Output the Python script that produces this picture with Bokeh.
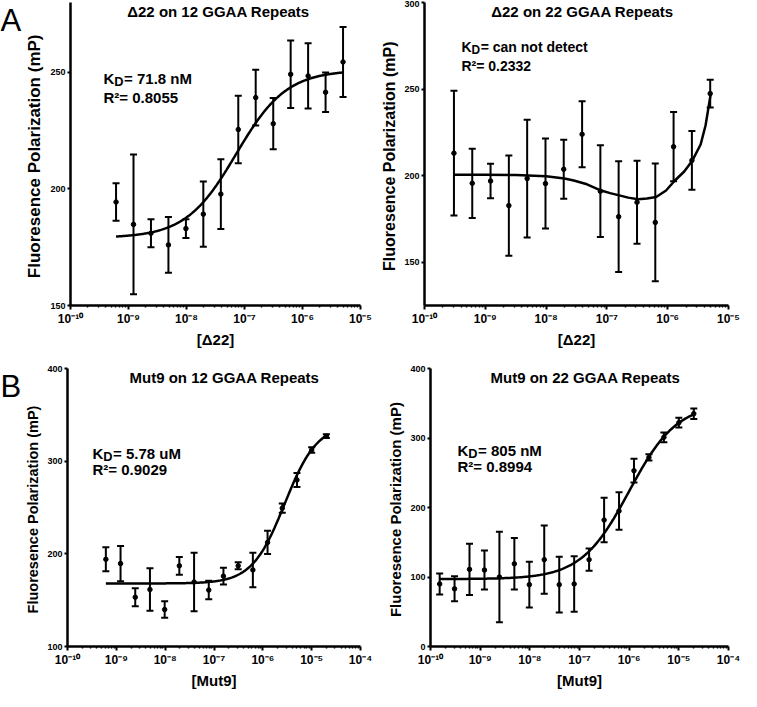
import numpy as np
from bokeh.plotting import figure
from bokeh.models import (ColumnDataSource, Whisker, TeeHead, Label, FixedTicker,
                          CustomJSTickFormatter, Range1d)
from bokeh.layouts import row, column
from bokeh.embed import file_html
from bokeh.resources import INLINE

# ---------------- data ----------------
# Panel A, left: Delta22 on 12 GGAA repeats
a12_conc = [6.1e-10, 1.22e-9, 2.44e-9, 4.88e-9, 9.77e-9, 1.95e-8, 3.91e-8,
            7.81e-8, 1.56e-7, 3.13e-7, 6.25e-7, 1.25e-6, 2.5e-6, 5.0e-6]
a12_mp = [194.4, 184.8, 181.0, 176.0, 183.0, 189.2, 197.8,
          225.5, 239.2, 228.0, 249.2, 248.5, 241.5, 254.5]
a12_err = [8, 30, 6, 12, 4, 14, 15, 14.5, 12, 11, 14.5, 14, 8.5, 15]
a12_fit_bottom, a12_fit_top, a12_fit_ec50, a12_fit_hill = 179.0, 251.0, 7.18e-8, 1.0

# Panel A, right: Delta22 on 22 GGAA repeats
a22_conc = [3.05e-10, 6.1e-10, 1.22e-9, 2.44e-9, 4.88e-9, 9.77e-9, 1.95e-8, 3.91e-8,
            7.81e-8, 1.56e-7, 3.13e-7, 6.25e-7, 1.25e-6, 2.5e-6, 5.0e-6]
a22_mp = [213.0, 195.6, 196.9, 182.7, 198.3, 195.4, 203.7, 223.9,
          191.0, 176.3, 184.6, 173.0, 216.7, 208.8, 247.4]
a22_err = [36, 20, 10, 29, 34, 26, 17, 19, 26.5, 32, 24, 34, 20, 17, 8]
# fitted curve as drawn
a22_curve_conc = [3.05e-10, 1e-9, 3.2e-9, 1e-8, 2e-8, 2.85e-8, 4.7e-8, 8.05e-8, 1.13e-7,
                  1.6e-7, 2.24e-7, 3.25e-7, 4.56e-7, 6.46e-7, 9.4e-7, 1.29e-6, 1.87e-6,
                  2.55e-6, 3.48e-6, 4.2e-6, 5.06e-6]
a22_curve_mp = [200.5, 200.5, 200.3, 199.6, 198.4, 197.2, 195.0, 191.4, 189.9,
                188.6, 187.3, 186.4, 186.8, 187.7, 191.4, 196.9, 202.4,
                208.8, 218.0, 229.1, 246.5]

# Panel B, left: Mut9 on 12 GGAA repeats
b12_conc = [6.1e-10, 1.22e-9, 2.44e-9, 4.88e-9, 9.77e-9, 1.95e-8, 3.91e-8, 7.81e-8,
            1.56e-7, 3.13e-7, 6.25e-7, 1.25e-6, 2.5e-6, 5.0e-6, 1.0e-5, 2.0e-5]
b12_mp = [194.1, 189.5, 153.2, 161.5, 139.9, 187.1, 169.6, 160.9,
          175.9, 187.1, 182.6, 212.3, 249.3, 279.7, 312.0, 327.0]
b12_err = [13, 19, 9.7, 23, 9, 9.6, 31.5, 10, 9, 3.7, 18.6, 12.6, 5, 7.5, 3, 2]
b12_fit_bottom, b12_fit_top, b12_fit_ec50, b12_fit_hill = 168.0, 340.0, 2.8e-6, 1.3

# Panel B, right: Mut9 on 22 GGAA repeats
b22_conc = [1.53e-10, 3.05e-10, 6.1e-10, 1.22e-9, 2.44e-9, 4.88e-9, 9.77e-9, 1.95e-8,
            3.91e-8, 7.81e-8, 1.56e-7, 3.13e-7, 6.25e-7, 1.25e-6, 2.5e-6, 5.0e-6,
            1.0e-5, 2.0e-5]
b22_mp = [90, 83, 111, 110, 100, 119, 89, 125, 89, 90, 125, 182, 195, 253, 272, 301, 322, 335]
b22_err = [15, 18, 37, 28, 65, 37, 33, 49, 40, 40, 16, 32, 27, 17, 4.5, 7, 7, 7.5]
b22_fit_bottom, b22_fit_top, b22_fit_ec50, b22_fit_hill = 97.0, 350.0, 1.0e-6, 0.9

# axis ticks
a_xticks = [1e-10, 1e-9, 1e-8, 1e-7, 1e-6, 1e-5]
b_xticks = [1e-10, 1e-9, 1e-8, 1e-7, 1e-6, 1e-5, 1e-4]
a12_yticks = [150, 200, 250]
a22_yticks = [150, 200, 250, 300]
b12_yticks = [100, 200, 300, 400]
b22_yticks = [0, 100, 200, 300, 400]

panel_letters = ["A", "B"]
titles = ["\u039422 on 12 GGAA Repeats", "\u039422 on 22 GGAA Repeats",
          "Mut9 on 12 GGAA Repeats", "Mut9 on 22 GGAA Repeats"]
kd_values = ["= 71.8 nM", "= can not detect", "= 5.78 uM", "= 805 nM"]
r2_values = ["R\u00b2= 0.8055", "R\u00b2= 0.2332", "R\u00b2= 0.9029", "R\u00b2= 0.8994"]
xlabels = ["[\u039422]", "[\u039422]", "[Mut9]", "[Mut9]"]
ylabel = "Fluoresence Polarization  (mP)"

FONT = "Liberation Sans"

SUP_JS = """
const e = Math.round(Math.log10(tick));
const sup = {"-": "\\u207b", "0": "\\u2070", "1": "\\u00b9", "2": "\\u00b2", "3": "\\u00b3",
             "4": "\\u2074", "5": "\\u2075", "6": "\\u2076", "7": "\\u2077", "8": "\\u2078",
             "9": "\\u2079"};
return "10" + String(e).split("").map(c => sup[c]).join("");
"""


def hill_curve(conc, bottom, top, ec50, hill):
    cx = np.logspace(np.log10(min(conc)), np.log10(max(conc)), 240)
    cy = bottom + (top - bottom) * cx ** hill / (ec50 ** hill + cx ** hill)
    return cx, cy


def add_text(p, x, y, text, size, style="bold", align="left"):
    p.add_layout(Label(x=x, y=y, x_units="screen", y_units="screen", text=text,
                       text_font=FONT, text_font_size=f"{size}px",
                       text_font_style=style, text_color="black",
                       text_baseline="top", text_align=align))


def letter_panel(letter, width, height, bt, bb):
    # narrow empty figure whose frame lines up with the panels of its row
    p = figure(width=width, height=height, x_range=Range1d(0, 1), y_range=Range1d(0, 1),
               output_backend="svg", toolbar_location=None, title=None,
               x_axis_location=None, y_axis_location=None,
               min_border_left=0, min_border_right=0, min_border_top=bt,
               min_border_bottom=bb)
    p.outline_line_color = None
    p.grid.visible = False
    add_text(p, 0, height - bt - bb - 1, letter, 31, style="normal")
    return p


def make_panel(conc, mp, err, cx, cy, xmax, ylo, yhi, xticks, yticks, title, xlabel,
               kd, r2, width, height, bl, br, bt, bb, ylab_size, ann_size,
               title_dx, kd_x, kd_top, r2_top):
    fw = width - bl - br
    fh = height - bt - bb
    p = figure(width=width, height=height, x_axis_type="log",
               x_range=Range1d(1e-10, xmax), y_range=Range1d(ylo, yhi),
               output_backend="svg", toolbar_location=None, title=None,
               min_border_left=bl, min_border_right=br, min_border_top=bt,
               min_border_bottom=bb)
    p.outline_line_color = None
    p.grid.visible = False
    p.background_fill_color = "white"

    minors = [m * t for t in xticks[:-1] for m in range(2, 10)]
    p.xaxis.ticker = FixedTicker(ticks=xticks, minor_ticks=minors)
    p.xaxis.formatter = CustomJSTickFormatter(code=SUP_JS)
    p.yaxis.ticker = FixedTicker(ticks=yticks)
    for ax in (p.xaxis, p.yaxis):
        ax.axis_line_width = 2.5
        ax.axis_line_color = "black"
        ax.major_tick_line_width = 2
        ax.major_tick_in = 0
        ax.minor_tick_in = 0
        ax.major_label_text_font = FONT
        ax.major_label_text_font_style = "bold"
        ax.major_label_text_color = "black"
        ax.axis_label_text_font = FONT
        ax.axis_label_text_font_style = "bold"
        ax.axis_label_text_color = "black"
    p.xaxis.major_tick_out = 4
    p.xaxis.minor_tick_out = 2
    p.xaxis.minor_tick_line_width = 1.5
    p.xaxis.major_label_text_font_size = "12px"
    p.xaxis.major_label_standoff = 2
    p.xaxis.axis_label = xlabel
    p.xaxis.axis_label_text_font_size = "15px"
    p.xaxis.axis_label_standoff = 2
    p.yaxis.major_tick_out = 3
    p.yaxis.minor_tick_out = 0
    p.yaxis.major_label_text_font_size = "9px"
    p.yaxis.major_label_standoff = 2
    p.yaxis.axis_label = ylabel
    p.yaxis.axis_label_text_font_size = ylab_size
    p.yaxis.axis_label_standoff = 3

    src = ColumnDataSource(dict(x=conc, y=mp,
                                upper=[m + e for m, e in zip(mp, err)],
                                lower=[m - e for m, e in zip(mp, err)]))
    p.add_layout(Whisker(source=src, base="x", upper="upper", lower="lower",
                         line_width=2, line_color="black",
                         upper_head=TeeHead(size=7, line_width=2, line_color="black"),
                         lower_head=TeeHead(size=7, line_width=2, line_color="black")))
    p.line(cx, cy, line_width=2.5, line_color="black")
    p.scatter("x", "y", source=src, size=4.5, color="black")

    add_text(p, fw / 2 + title_dx, fh - 1, title, 15, align="center")
    kw = 0.722 * ann_size
    ds = 0.85 * ann_size
    add_text(p, kd_x, fh - kd_top, "K", ann_size)
    add_text(p, kd_x + kw, fh - kd_top - 0.3 * ann_size, "D", round(ds, 1))
    add_text(p, kd_x + kw + 0.722 * ds + 0.5, fh - kd_top, kd, ann_size)
    add_text(p, kd_x, fh - r2_top, r2, ann_size)
    return p


LW = 22   # width of the column that holds the panel letters
BB = 44   # bottom border of every panel (tick labels + axis label)

cx, cy = hill_curve(a12_conc, a12_fit_bottom, a12_fit_top, a12_fit_ec50, a12_fit_hill)
pa1 = make_panel(a12_conc, a12_mp, a12_err, cx, cy, 1e-5, 150, 280, a_xticks, a12_yticks,
                 titles[0], xlabels[0], kd_values[0], r2_values[0],
                 352, 350, 42, 14, 2, BB, "17px", 15, 0, 33, 68, 87)
pa2 = make_panel(a22_conc, a22_mp, a22_err, a22_curve_conc, a22_curve_mp, 1e-5, 125, 300,
                 a_xticks, a22_yticks, titles[1], xlabels[1], kd_values[1], r2_values[1],
                 367, 350, 50, 13, 2, BB, "16px", 14, 6, 37, 37, 56)
cx, cy = hill_curve(b12_conc, b12_fit_bottom, b12_fit_top, b12_fit_ec50, b12_fit_hill)
pb1 = make_panel(b12_conc, b12_mp, b12_err, cx, cy, 1e-4, 100, 400, b_xticks, b12_yticks,
                 titles[2], xlabels[2], kd_values[2], r2_values[2],
                 352, 341, 42, 14, 18, BB, "14.5px", 15, 9, 25, 77, 93)
cx, cy = hill_curve(b22_conc, b22_fit_bottom, b22_fit_top, b22_fit_ec50, b22_fit_hill)
pb2 = make_panel(b22_conc, b22_mp, b22_err, cx, cy, 1e-4, 0, 400, b_xticks, b22_yticks,
                 titles[3], xlabels[3], kd_values[3], r2_values[3],
                 367, 341, 56, 13, 18, BB, "15px", 15, 6, 27, 74, 90)

la = letter_panel(panel_letters[0], LW, 350, 2, BB)
lb = letter_panel(panel_letters[1], LW, 341, 18, BB)

layout = column(row(la, pa1, pa2), row(lb, pb1, pb2))
with open("out.html", "w", encoding="utf-8") as f:
    f.write(file_html(layout, INLINE))
